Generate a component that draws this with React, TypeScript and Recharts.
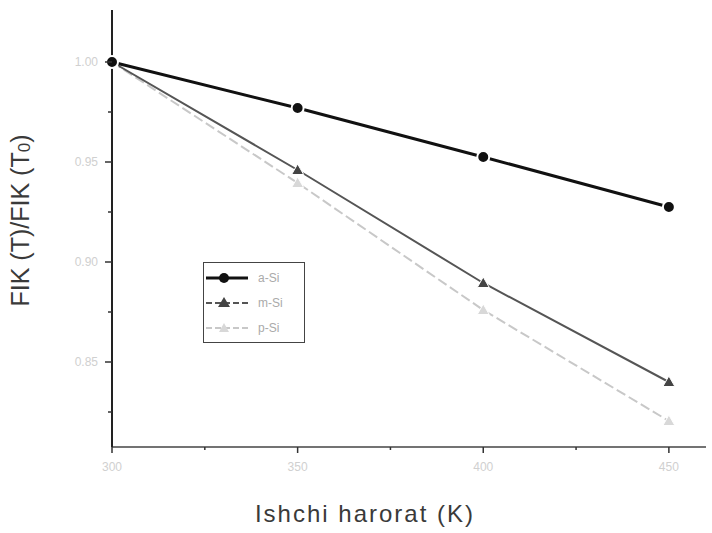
import React from "react";
import { LineChart, Line, XAxis, YAxis, Label } from "recharts";

// Relative efficiency vs. operating temperature for three silicon cell types
const temps = [300, 350, 400, 450];
const aSi = [1.0, 0.977, 0.9525, 0.9275];
const mSi = [1.0, 0.946, 0.8895, 0.84];
const pSi = [1.0, 0.9395, 0.876, 0.8205];

const seriesNames = ["a-Si", "m-Si", "p-Si"];

const xTicks = [300, 325, 350, 375, 400, 425, 450];
const yTicks = [0.825, 0.85, 0.875, 0.9, 0.925, 0.95, 0.975, 1.0];

const data = temps.map((t, i) => ({ t, a: aSi[i], m: mSi[i], p: pSi[i] }));

const FONT = "'Liberation Sans', Arial, sans-serif";

const Triangle = (props: any) => {
  const { cx, cy, fill, size = 7, index } = props;
  if (cx == null || cy == null) return null;
  return (
    <polygon
      key={`tri-${index}`}
      points={`${cx},${cy - size} ${cx - size},${cy + size * 0.75} ${cx + size},${cy + size * 0.75}`}
      fill={fill}
      stroke="#fff"
      strokeWidth={1}
    />
  );
};

const YTick = (props: any) => {
  const { x, y, payload } = props;
  const major = Math.round(payload.value * 1000) % 50 === 0;
  return (
    <g>
      <line x1={x - (major ? 7 : 4)} x2={x} y1={y} y2={y} stroke="#333" strokeWidth={1.5} />
      {major && (
        <text x={x - 14} y={y + 4} textAnchor="end" fontSize={12} fill="#d0d0d0" fontFamily={FONT}>
          {payload.value.toFixed(2)}
        </text>
      )}
    </g>
  );
};

const XTick = (props: any) => {
  const { x, y, payload } = props;
  const major = payload.value % 50 === 0;
  return (
    <g>
      <line x1={x} x2={x} y1={y} y2={y + (major ? 6 : 3)} stroke="#333" strokeWidth={1.5} />
      {major && (
        <text x={x} y={y + 24} textAnchor="middle" fontSize={12} fill="#d0d0d0" fontFamily={FONT}>
          {payload.value}
        </text>
      )}
    </g>
  );
};

// legend box drawn as an overlay so it doesn't shrink the plot area
const LegendBox = () => {
  const rows = [
    { color: "#111", width: 3, dash: undefined, mark: "circle" },
    { color: "#555", width: 2, dash: "6 3", mark: "tri" },
    { color: "#c8c8c8", width: 2, dash: "6 3", mark: "x" },
  ];
  return (
    <div
      style={{
        position: "absolute",
        left: 203,
        top: 262,
        border: "1.5px solid #444",
        background: "#fff",
        width: 102,
        height: 81,
        padding: "2px 0",
        boxSizing: "border-box",
      }}
    >
      {rows.map((r, i) => (
        <div key={i} style={{ display: "flex", alignItems: "center", height: 25 }}>
          <svg width={48} height={20}>
            <line x1={2} x2={44} y1={10} y2={10} stroke={r.color} strokeWidth={r.width} strokeDasharray={r.dash} />
            {r.mark === "circle" && <circle cx={20} cy={10} r={5} fill={r.color} />}
            {r.mark === "tri" && <polygon points="20,4 14,14 26,14" fill="#444" />}
            {r.mark === "x" && <polygon points="20,5 15,14 25,14" fill="#d8d8d8" />}
          </svg>
          <span style={{ fontFamily: FONT, fontSize: 12, color: "#aaa", marginLeft: 6 }}>{seriesNames[i]}</span>
        </div>
      ))}
    </div>
  );
};

export default function App() {
  return (
    <div style={{ position: "absolute", left: 0, top: 0, width: 712, height: 533, background: "#fff" }}>
      <LineChart width={712} height={533} data={data} margin={{ top: 10, right: 6, bottom: 0, left: 0 }}>
        <XAxis
          dataKey="t"
          type="number"
          domain={[300, 460]}
          ticks={xTicks}
          tick={<XTick />}
          tickLine={false}
          tickSize={0}
          tickMargin={0}
          height={86}
          axisLine={{ stroke: "#444", strokeWidth: 1.5 }}
        >
          <Label
            content={(p: any) => {
              const vb = p.viewBox;
              return (
                <text
                  x={vb.x + vb.width / 2 - 44}
                  y={vb.y + vb.height - 11}
                  textAnchor="middle"
                  fontSize={24}
                  letterSpacing={2}
                  fill="#3a3a3a"
                  fontFamily={FONT}
                >
                  Ishchi harorat  (K)
                </text>
              );
            }}
          />
        </XAxis>
        <YAxis
          type="number"
          domain={[0.8075, 1.026]}
          ticks={yTicks}
          tick={<YTick />}
          tickLine={false}
          tickSize={0}
          tickMargin={0}
          width={112}
          axisLine={{ stroke: "#222", strokeWidth: 2 }}
        >
          <Label
            content={(p: any) => {
              const vb = p.viewBox;
              const cx = 22;
              const cy = vb.y + vb.height / 2 - 8;
              return (
                <text
                  x={cx}
                  y={cy}
                  transform={`rotate(-90 ${cx} ${cy})`}
                  textAnchor="middle"
                  dominantBaseline="middle"
                  fontSize={25}
                  fill="#3a3a3a"
                  fontFamily={FONT}
                >
                  FIK (T)/FIK (T
                  <tspan fontSize={17} dy={4}>0</tspan>
                  <tspan dy={-4}>)</tspan>
                </text>
              );
            }}
          />
        </YAxis>
        <Line
          dataKey="p"
          name={seriesNames[2]}
          stroke="#c8c8c8"
          strokeWidth={2}
          strokeDasharray="10 4"
          dot={(p: any) => <Triangle {...p} fill="#d8d8d8" size={6} />}
          isAnimationActive={false}
        />
        <Line
          dataKey="m"
          name={seriesNames[1]}
          stroke="#555"
          strokeWidth={2}
          dot={(p: any) => <Triangle {...p} fill="#444" size={6} />}
          isAnimationActive={false}
        />
        <Line
          dataKey="a"
          name={seriesNames[0]}
          stroke="#111"
          strokeWidth={3}
          dot={{ r: 6, fill: "#111", stroke: "#fff", strokeWidth: 2 }}
          isAnimationActive={false}
        />
      </LineChart>
      <LegendBox />
    </div>
  );
}
